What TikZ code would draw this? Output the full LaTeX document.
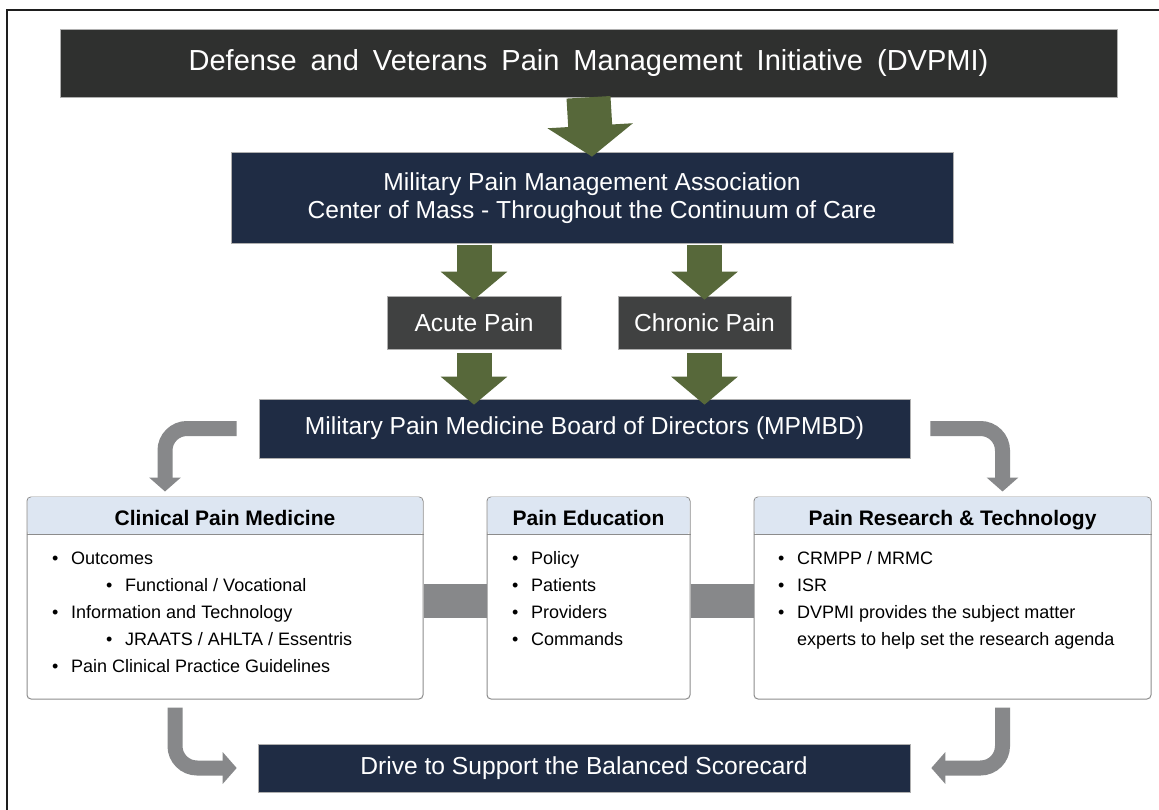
\documentclass[tikz,border=0pt]{standalone}
\usepackage{fontspec}
\setmainfont{Liberation Sans}
\usepackage{tikz}
\usetikzlibrary{arrows.meta}
\definecolor{titlegray}{HTML}{2F302F}
\definecolor{navy}{HTML}{1F2C44}
\definecolor{boxgray}{HTML}{404141}
\definecolor{olive}{HTML}{57683A}
\definecolor{arrowgray}{HTML}{87888A}
\definecolor{headblue}{HTML}{DDE6F2}
\definecolor{linegray}{HTML}{8C8C8C}
\definecolor{framegray}{HTML}{1E1E1E}
\tikzset{bigfont/.style={font=\fontsize{29}{34}\selectfont}}
\tikzset{midfont/.style={font=\fontsize{24.6}{28}\selectfont}}
\tikzset{headfont/.style={font=\bfseries\fontsize{21}{24}\selectfont}}
\tikzset{itemfont/.style={font=\fontsize{18}{27}\selectfont}}
\tikzset{darkbox/.style={fill=navy, text=white, draw=linegray!70, line width=0.6pt, inner sep=0pt, align=center, midfont}}
\tikzset{painbox/.style={darkbox, fill=boxgray, minimum height=53pt}}
\tikzset{secbox/.style={draw=linegray, line width=1pt, fill=white, rounded corners=4pt, minimum height=202pt, inner sep=0pt}}
\tikzset{sechead/.style={fill=headblue, rounded corners=4pt, minimum height=37.5pt, inner sep=0pt, text height=20pt, text depth=1pt, anchor=north, headfont}}
\tikzset{items/.style={anchor=base west, align=left, inner sep=0pt, itemfont}}
\tikzset{greenarrow/.style={draw=olive, line width=44pt, -{Triangle[width=84pt,length=31pt]}, olive}}
\tikzset{smallarrow/.style={draw=olive, line width=35pt, -{Triangle[width=65pt,length=28pt]}, olive}}
\tikzset{bendarrow/.style={draw=arrowgray, line width=15pt, rounded corners=22pt, -{Triangle[width=31pt,length=14pt]}, arrowgray}}
\tikzset{link/.style={draw=arrowgray, line width=34pt}}
\newcommand{\bul}[1]{\makebox[19pt][l]{\textbullet}#1}
\newcommand{\subbul}[1]{\hspace{54pt}\makebox[19pt][l]{\textbullet}#1}

\begin{document}
\begin{tikzpicture}[x=1pt, y=-1pt]
  \useasboundingbox[fill=white] (0,0) rectangle (1159,810);
  \draw[line width=2.2pt, framegray] (7,830) -- (7,10) -- (1170,10);

  % top of the chain
  \node[darkbox, fill=titlegray, bigfont, minimum width=1057pt, minimum height=68pt] (title) at (588.5,63)
    {\spaceskip=14pt plus 1pt Defense and Veterans Pain Management Initiative (DVPMI)};
  \node[darkbox, minimum width=722pt, minimum height=91pt] (mpma) at (592,198)
    {Military Pain Management Association\\Center of Mass - Throughout the Continuum of Care};
  \node[painbox, minimum width=174pt] (acute) at (474,322.5) {Acute Pain};
  \node[painbox, minimum width=173pt] (chronic) at (704.5,322.5) {Chronic Pain};
  \node[darkbox, minimum width=651pt, minimum height=59pt] (mpmbd) at (584.5,428.5)
    {Military Pain Medicine Board of Directors (MPMBD)};
  \node[darkbox, minimum width=652pt, minimum height=48pt] (drive) at (584,768)
    {Drive to Support the Balanced Scorecard};

  \draw[greenarrow] (title.south) -- ([yshift=-4.5pt]mpma.north);
  \draw[smallarrow] ([yshift=-1.5pt]acute.north |- mpma.south) -- ([yshift=-4pt]acute.north);
  \draw[smallarrow] ([yshift=-1.5pt]chronic.north |- mpma.south) -- ([yshift=-4pt]chronic.north);
  \draw[smallarrow] ([yshift=-4pt]acute.south) -- ([yshift=-6pt]acute.south |- mpmbd.north);
  \draw[smallarrow] ([yshift=-4pt]chronic.south) -- ([yshift=-6pt]chronic.south |- mpmbd.north);

  % the three sections
  \node[secbox, minimum width=396pt] (clinical) at (225,598) {};
  \node[secbox, minimum width=203pt] (education) at (588.5,598) {};
  \node[secbox, minimum width=397pt] (research) at (952.5,598) {};
  \foreach \nm/\hw/\ttl in {clinical/395/Clinical Pain Medicine, education/202/Pain Education, research/396/Pain Research \& Technology}{
    \node[sechead, minimum width=\hw pt] (\nm head) at ([yshift=-0.5pt]\nm.north) {\ttl};
    \draw[linegray, line width=1pt] (\nm head.south -| \nm.west) -- (\nm head.south -| \nm.east);
  }

  % base is the last line
  \node[items] (clinicalitems) at (52,672)
    {\bul{Outcomes}\\ \subbul{Functional / Vocational}\\ \bul{Information and Technology}\\
     \subbul{JRAATS / AHLTA / Essentris}\\ \bul{Pain Clinical Practice Guidelines}};
  \node[items] (educationitems) at (512,645)
    {\bul{Policy}\\ \bul{Patients}\\ \bul{Providers}\\ \bul{Commands}};
  \node[items] (researchitems) at (778,645)
    {\bul{CRMPP / MRMC}\\ \bul{ISR}\\ \bul{DVPMI provides the subject matter}\\
     \hspace{19pt}experts to help set the research agenda};

  \draw[link] ([yshift=-3pt]clinical.east) -- ([yshift=-3pt]education.west);
  \draw[link] ([yshift=-3pt]education.east) -- ([yshift=-3pt]research.west);

  % gray bends
  \draw[bendarrow] ([xshift=-22pt]mpmbd.west) -| ([xshift=-60pt,yshift=5pt]clinical.north);
  \draw[bendarrow] ([xshift=20pt]mpmbd.east) -| ([xshift=50pt,yshift=5pt]research.north);
  \draw[bendarrow] ([xshift=-50pt,yshift=-8pt]clinical.south) |- ([xshift=-21pt]drive.west);
  \draw[bendarrow] ([xshift=50pt,yshift=-8pt]research.south) |- ([xshift=21pt]drive.east);
\end{tikzpicture}
\end{document}
